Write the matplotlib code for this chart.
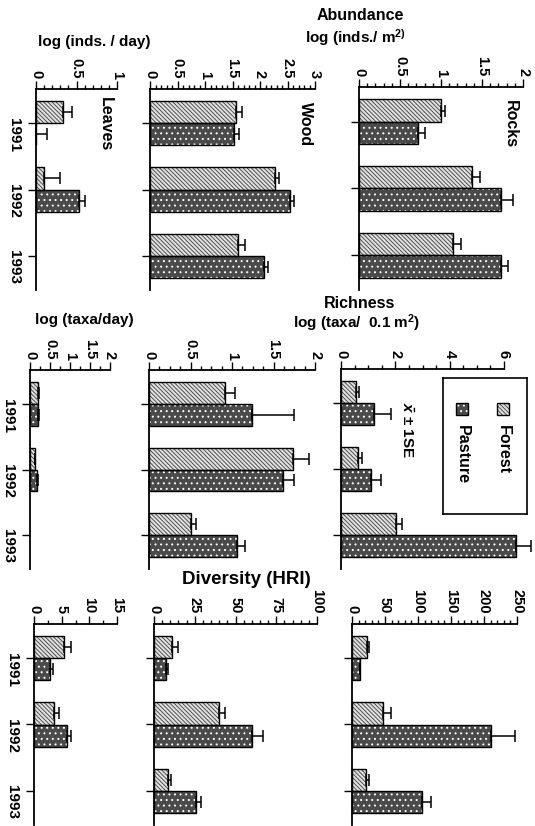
import numpy as np
import matplotlib
matplotlib.use('Agg')
import matplotlib.pyplot as plt
from matplotlib.ticker import MultipleLocator, FuncFormatter
from matplotlib.patches import Rectangle

plt.rcParams['font.family'] = ['Liberation Sans', 'DejaVu Sans']
plt.rcParams['font.weight'] = 'bold'
plt.rcParams['hatch.linewidth'] = 0.7
plt.rcParams['mathtext.fontset'] = 'custom'
plt.rcParams['mathtext.rm'] = 'Liberation Sans:bold'
plt.rcParams['mathtext.it'] = 'Liberation Sans:bold:italic'
plt.rcParams['mathtext.bf'] = 'Liberation Sans:bold'

nan = np.nan
years = ['1991', '1992', '1993']

# ---------------- Abundance ----------------
rocks_ab_forest = [1.00, 1.38, 1.15]
rocks_ab_forest_se = [0.05, 0.09, 0.09]
rocks_ab_pasture = [0.72, 1.73, 1.73]
rocks_ab_pasture_se = [0.08, 0.15, 0.09]
wood_ab_forest = [1.56, 2.28, 1.60]
wood_ab_forest_se = [0.12, 0.07, 0.12]
wood_ab_pasture = [1.52, 2.55, 2.08]
wood_ab_pasture_se = [0.10, 0.06, 0.07]
leaves_ab_forest = [0.33, 0.10, nan]
leaves_ab_forest_se = [0.11, 0.20, nan]
leaves_ab_pasture = [0.0, 0.53, nan]
leaves_ab_pasture_se = [0.13, 0.08, nan]

# ---------------- Richness ----------------
rocks_ri_forest = [0.56, 0.62, 2.03]
rocks_ri_forest_se = [0.12, 0.15, 0.21]
rocks_ri_pasture = [1.22, 1.10, 6.45]
rocks_ri_pasture_se = [0.61, 0.37, 0.53]
wood_ri_forest = [0.92, 1.74, 0.51]
wood_ri_forest_se = [0.12, 0.19, 0.06]
wood_ri_pasture = [1.24, 1.62, 1.06]
wood_ri_pasture_se = [0.51, 0.13, 0.10]
leaves_ri_forest = [0.21, 0.12, nan]
leaves_ri_forest_se = [0.02, 0.0, nan]
leaves_ri_pasture = [0.19, 0.17, nan]
leaves_ri_pasture_se = [0.04, 0.02, nan]

# ---------------- Diversity ----------------
rocks_div_forest = [22.7, 47.0, 21.2]
rocks_div_forest_se = [2.5, 12.0, 3.8]
rocks_div_pasture = [11.6, 210.6, 106.0]
rocks_div_pasture_se = [1.0, 37.0, 14.0]
wood_div_forest = [11.1, 40.0, 8.8]
wood_div_forest_se = [3.7, 3.5, 1.5]
wood_div_pasture = [7.6, 60.2, 26.0]
wood_div_pasture_se = [1.2, 6.5, 2.7]
leaves_div_forest = [5.4, 3.6, nan]
leaves_div_forest_se = [1.2, 0.9, nan]
leaves_div_pasture = [2.85, 6.0, nan]
leaves_div_pasture_se = [0.5, 0.7, nan]

W, H = 535, 826
fig = plt.figure(figsize=(W / 100, H / 100), dpi=100)


def rect(x0, x1, yt, yb):
    return [x0 / W, 1 - yb / H, (x1 - x0) / W, (yb - yt) / H]


def fxy(x, y):
    return x / W, 1 - y / H


BAR_H = 1 / 3
FOREST_FACE, FOREST_HATCH, FOREST_PAT = '#e2e2e2', '#505050', '\\' * 8
PASTURE_FACE, PASTURE_HATCH, PASTURE_PAT = '#4a4a4a', 'white', '...'


def draw_bars(ax, vals, se, offset, face, hcol, pat):
    v = np.asarray(vals, float)
    e = np.asarray(se, float)
    pos = np.arange(len(v)) + offset
    b1 = ax.barh(pos, v, height=BAR_H, color=face, edgecolor=hcol, hatch=pat,
                 linewidth=0, zorder=2)
    b2 = ax.barh(pos, v, height=BAR_H, fill=False, edgecolor='black',
                 linewidth=1.0, zorder=3)
    for b in list(b1) + list(b2):
        b.set_clip_on(False)
    eb = ax.errorbar(v, pos, xerr=[np.zeros_like(v), e], fmt='none', ecolor='black',
                     elinewidth=1.1, capsize=4, capthick=1.1, zorder=4)
    for art in eb.lines[1] + eb.lines[2]:
        art.set_clip_on(False)


def panel(px, xmax, major, minor, f, fse, p, pse, show_years):
    ax = fig.add_axes(rect(*px))
    ax.patch.set_alpha(0)
    draw_bars(ax, f, fse, -BAR_H / 2, FOREST_FACE, FOREST_HATCH, FOREST_PAT)
    draw_bars(ax, p, pse, BAR_H / 2, PASTURE_FACE, PASTURE_HATCH, PASTURE_PAT)
    ax.set_xlim(0, xmax)
    ax.set_ylim(2.52, -0.52)
    ax.xaxis.tick_top()
    ax.xaxis.set_major_locator(MultipleLocator(major))
    ax.xaxis.set_minor_locator(MultipleLocator(minor))
    ax.xaxis.set_major_formatter(FuncFormatter(lambda v, q: f'{v:g}'))
    ax.tick_params(axis='x', which='major', direction='out', length=5.5,
                   width=1, labelsize=10.5, labelrotation=-90, pad=2)
    ax.tick_params(axis='x', which='minor', direction='out', length=2.8, width=1)
    ax.set_yticks(range(len(years)))
    ax.set_yticklabels(years if show_years else [])
    ax.tick_params(axis='y', direction='out', length=6, width=1,
                   labelsize=11, labelrotation=-90, pad=5)
    for s in ['right', 'bottom']:
        ax.spines[s].set_visible(False)
    for s in ['top', 'left']:
        ax.spines[s].set_linewidth(1.3)
    return ax


# Abundance row
panel((36, 117, 89, 290), 1, 0.5, 0.1, leaves_ab_forest, leaves_ab_forest_se,
      leaves_ab_pasture, leaves_ab_pasture_se, True)
panel((150, 315, 89, 290), 3, 0.5, 0.1, wood_ab_forest, wood_ab_forest_se,
      wood_ab_pasture, wood_ab_pasture_se, False)
panel((359, 523, 87, 290), 2, 0.5, 0.1, rocks_ab_forest, rocks_ab_forest_se,
      rocks_ab_pasture, rocks_ab_pasture_se, False)

# Richness row
panel((30, 110, 370, 569), 2, 0.5, 0.25, leaves_ri_forest, leaves_ri_forest_se,
      leaves_ri_pasture, leaves_ri_pasture_se, True)
panel((149, 315, 370, 569), 2, 0.5, 0.125, wood_ri_forest, wood_ri_forest_se,
      wood_ri_pasture, wood_ri_pasture_se, False)
panel((341, 504, 369, 569), 6, 2, 0.5, rocks_ri_forest, rocks_ri_forest_se,
      rocks_ri_pasture, rocks_ri_pasture_se, False)

# Diversity row
panel((34, 117, 624, 825), 15, 5, 2.5, leaves_div_forest, leaves_div_forest_se,
      leaves_div_pasture, leaves_div_pasture_se, True)
panel((154, 317, 624, 825), 100, 25, 5, wood_div_forest, wood_div_forest_se,
      wood_div_pasture, wood_div_pasture_se, False)
panel((352, 517, 624, 825), 250, 50, 10, rocks_div_forest, rocks_div_forest_se,
      rocks_div_pasture, rocks_div_pasture_se, False)

# Titles / axis labels
fig.text(*fxy(360, 15), 'Abundance', ha='center', va='center', fontsize=11.5)
fig.text(*fxy(356, 38), r'log (inds./ m$^{2)}$', ha='center', va='center', fontsize=11)
fig.text(*fxy(94, 42), 'log (inds. / day)', ha='center', va='center', fontsize=11)
fig.text(*fxy(360, 303), 'Richness', ha='center', va='center', fontsize=11.5)
fig.text(*fxy(357, 323), r'log (taxa/  0.1 m$^{2}$)', ha='center', va='center', fontsize=11)
fig.text(*fxy(84, 320), 'log (taxa/day)', ha='center', va='center', fontsize=11)
fig.text(*fxy(246, 580), 'Diversity (HRI)', ha='center', va='center', fontsize=13.5)

# Habitat labels
fig.text(*fxy(510, 100), 'Rocks', rotation=-90, ha='center', va='top', fontsize=11.5)
fig.text(*fxy(305, 102), 'Wood', rotation=-90, ha='center', va='top', fontsize=11.5)
fig.text(*fxy(105, 97), 'Leaves', rotation=-90, ha='center', va='top', fontsize=11.5)

# Legend
lax = fig.add_axes(rect(443, 527, 378, 514))
lax.set_xlim(443, 527)
lax.set_ylim(514, 378)
lax.set_xticks([])
lax.set_yticks([])
for s in lax.spines.values():
    s.set_linewidth(1.2)
lax.add_patch(Rectangle((497, 403), 12, 12, facecolor=FOREST_FACE,
                        edgecolor=FOREST_HATCH, hatch=FOREST_PAT, linewidth=0))
lax.add_patch(Rectangle((497, 403), 12, 12, fill=False, edgecolor='black', linewidth=1))
lax.add_patch(Rectangle((456, 403), 12, 12, facecolor=PASTURE_FACE,
                        edgecolor=PASTURE_HATCH, hatch=PASTURE_PAT, linewidth=0))
lax.add_patch(Rectangle((456, 403), 12, 12, fill=False, edgecolor='black', linewidth=1))
lax.text(503, 425, 'Forest', rotation=-90, ha='center', va='top', fontsize=11.5)
lax.text(462, 425, 'Pasture', rotation=-90, ha='center', va='top', fontsize=11.5)

fig.text(*fxy(407, 402), r'$\bar{x}$ ± 1SE', rotation=-90, ha='center', va='top', fontsize=11)

fig.savefig('out.png', dpi=100)
